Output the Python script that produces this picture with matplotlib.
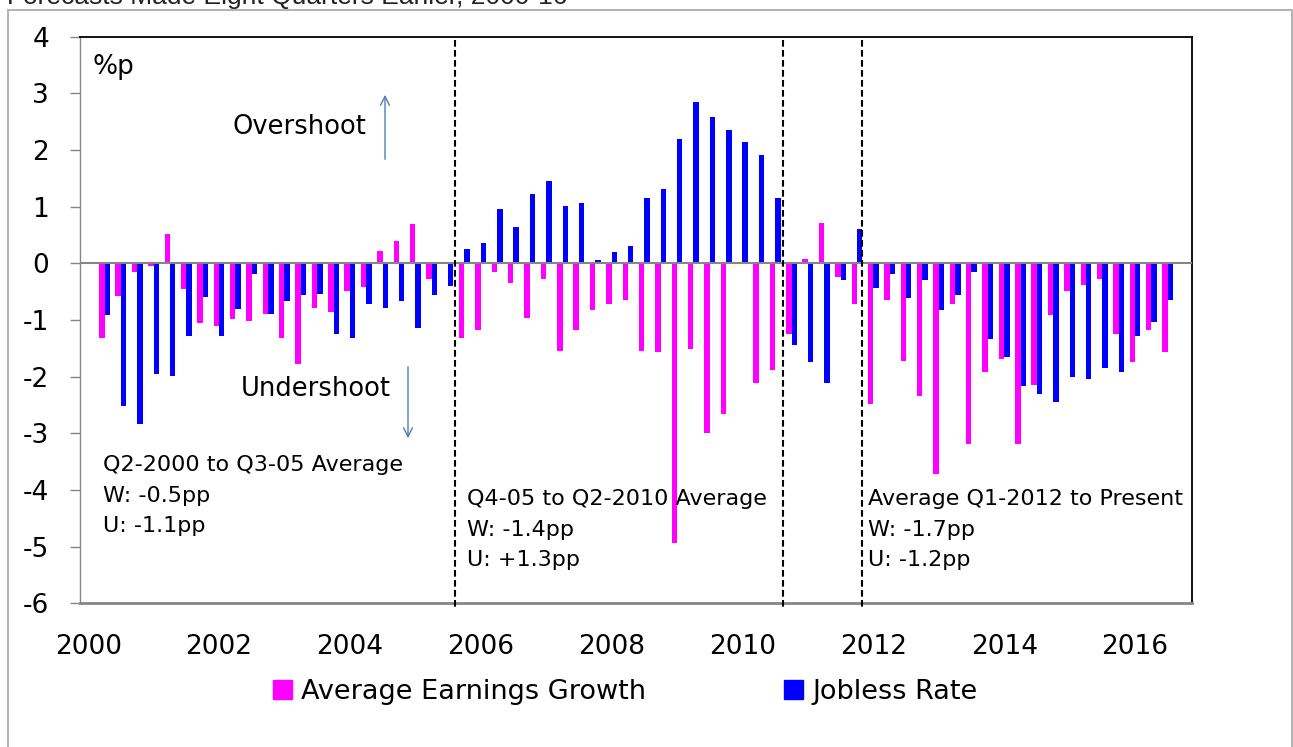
import matplotlib
matplotlib.use("Agg")
import matplotlib.pyplot as plt
from matplotlib.patches import Patch, Rectangle

W, H = 1293, 747
plt.rcParams['font.family'] = ['DejaVu Sans']

# ---------------- data ----------------
# categories: Q1-2000 .. Q4-2016 (Q1-2000 has no data)
years = list(range(2000, 2017))
quarters = [f"Q{q}-{y}" for y in years for q in range(1, 5)]
data_quarters = quarters[1:67]   # Q2-2000 .. Q3-2016

earnings = [-1.32, -0.57, -0.16, -0.04, 0.52, -0.46, -1.06, -1.10, -0.99, -1.02,
            -0.89, -1.31, -1.77, -0.79, -0.85, -0.48, -0.42, 0.22, 0.39, 0.69,
            -0.27, 0.00, -1.31, -1.18, -0.16, -0.34, -0.96, -0.28, -1.55, -1.18,
            -0.82, -0.71, -0.64, -1.55, -1.57, -4.93, -1.51, -3.00, -2.66, 0.02,
            -2.12, -1.88, -1.24, 0.07, 0.71, -0.24, -0.71, -2.48, -0.65, -1.73,
            -2.35, -3.72, -0.71, -3.18, -1.91, -1.69, -3.18, -2.15, -0.92, -0.49,
            -0.39, -0.27, -1.24, -1.75, -1.18, -1.56]

jobless = [-0.92, -2.51, -2.84, -1.95, -1.99, -1.29, -0.59, -1.28, -0.81, -0.19,
           -0.90, -0.66, -0.55, -0.54, -1.25, -1.32, -0.72, -0.78, -0.66, -1.14,
           -0.55, -0.40, 0.26, 0.36, 0.96, 0.64, 1.22, 1.46, 1.02, 1.06,
           0.06, 0.20, 0.31, 1.16, 1.32, 2.19, 2.85, 2.59, 2.36, 2.14,
           1.92, 1.15, -1.45, -1.74, -2.11, -0.29, 0.61, -0.44, -0.19, -0.61,
           -0.29, -0.83, -0.56, -0.16, -1.34, -1.65, -2.16, -2.31, -2.45, -2.01,
           -2.04, -1.85, -1.92, -1.29, -1.03, -0.64]

series_names = ["Average Earnings Growth", "Jobless Rate"]
tick_labels = [str(y) for y in range(2000, 2017, 2)]
yticks = list(range(-6, 5))

period_titles = ["Q2-2000 to Q3-05 Average", "Q4-05 to Q2-2010 Average",
                 "Average Q1-2012 to Present"]
period_w = ["W: -0.5pp", "W: -1.4pp", "W: -1.7pp"]
period_u = ["U: -1.1pp", "U: +1.3pp", "U: -1.2pp"]

# ---------------- styling ----------------
PINK = "#FF00FF"
BLUE = "#0000FF"
GRAY = "#868686"
bw = 0.333

def fx(px):
    return px / W

def fy(py):
    return 1 - py / H

fig = plt.figure(figsize=(W / 100, H / 100), dpi=100)
ax = fig.add_axes([fx(80), fy(603.3), (1192.3 - 80) / W, (603.3 - 36.7) / H])

pos = [quarters.index(q) for q in data_quarters]
ax.bar([p - bw / 2 for p in pos], earnings, width=bw, color=PINK, zorder=2)
ax.bar([p + bw / 2 for p in pos], jobless, width=bw, color=BLUE, zorder=2)

ax.axhline(0, color=GRAY, lw=1.5, zorder=3)

ax.set_xlim(-0.5, len(quarters) - 0.5)
ax.set_ylim(-6, 4)
ax.set_yticks(yticks)
ax.set_yticklabels([str(v) for v in yticks])
tick_pos = [quarters.index(f"Q1-{t}") for t in tick_labels]
ax.set_xticks(tick_pos)
ax.set_xticklabels(tick_labels)
ax.tick_params(axis='y', length=7.2, width=1, color=GRAY, pad=15, labelsize=19)
ax.tick_params(axis='x', length=0, pad=22, labelsize=19)

ax.spines['left'].set_color(GRAY)
ax.spines['left'].set_linewidth(1.0)
ax.spines['bottom'].set_color(GRAY)
ax.spines['bottom'].set_linewidth(2.0)
for s in ('top', 'right'):
    ax.spines[s].set_color('black')
    ax.spines[s].set_linewidth(1.3)

# period divider lines (category units)
for xv in [22.42, 42.49, 47.28]:
    ax.plot([xv, xv], [3.94, -6.08], color='black', lw=1.5,
            dashes=(3.2, 1.6), clip_on=False, zorder=4)

# texts
fig.text(fx(92), fy(74), "%p", fontsize=19, va='baseline')
fig.text(fx(232), fy(134), "Overshoot", fontsize=18.5, va='baseline')
fig.text(fx(241), fy(396), "Undershoot", fontsize=18.5, va='baseline')

arrow_col = "#4a7ebb"
fig.add_artist(matplotlib.patches.FancyArrowPatch(
    (fx(385), fy(162)), (fx(385), fy(92)), transform=fig.transFigure,
    arrowstyle='->', mutation_scale=16, color=arrow_col, lw=1))
fig.add_artist(matplotlib.patches.FancyArrowPatch(
    (fx(408), fy(364)), (fx(408), fy(441)), transform=fig.transFigure,
    arrowstyle='->', mutation_scale=16, color=arrow_col, lw=1))

blocks = [(103, 471), (467, 505), (868, 505)]
for (bx, by), t, w_, u_ in zip(blocks, period_titles, period_w, period_u):
    fig.text(fx(bx), fy(by), t, fontsize=16, va='baseline')
    fig.text(fx(bx), fy(by + 30.5), w_, fontsize=16, va='baseline')
    fig.text(fx(bx), fy(by + 61), u_, fontsize=16, va='baseline')

# title, clipped by the top edge as in the reference
fig.text(fx(7), fy(4), "Forecasts Made Eight Quarters Earlier, 2000-16",
         family='Liberation Sans', fontsize=19, va='baseline', color='#222222')

# outer frame
fig.patches.append(Rectangle((fx(7.5), -0.02), (1291.5 - 7.5) / W, fy(9.5) + 0.02,
                             transform=fig.transFigure, fill=False,
                             ec='#a6a6a6', lw=1.2))

handles = [Patch(color=PINK), Patch(color=BLUE)]
fig.legend(handles, series_names, loc='center', bbox_to_anchor=(fx(625), fy(692)),
           ncol=2, frameon=False, fontsize=19.5, handlelength=0.72,
           handleheight=0.65, handletextpad=0.32, columnspacing=5.1,
           borderpad=0, borderaxespad=0)

fig.savefig("out.png", dpi=100)
